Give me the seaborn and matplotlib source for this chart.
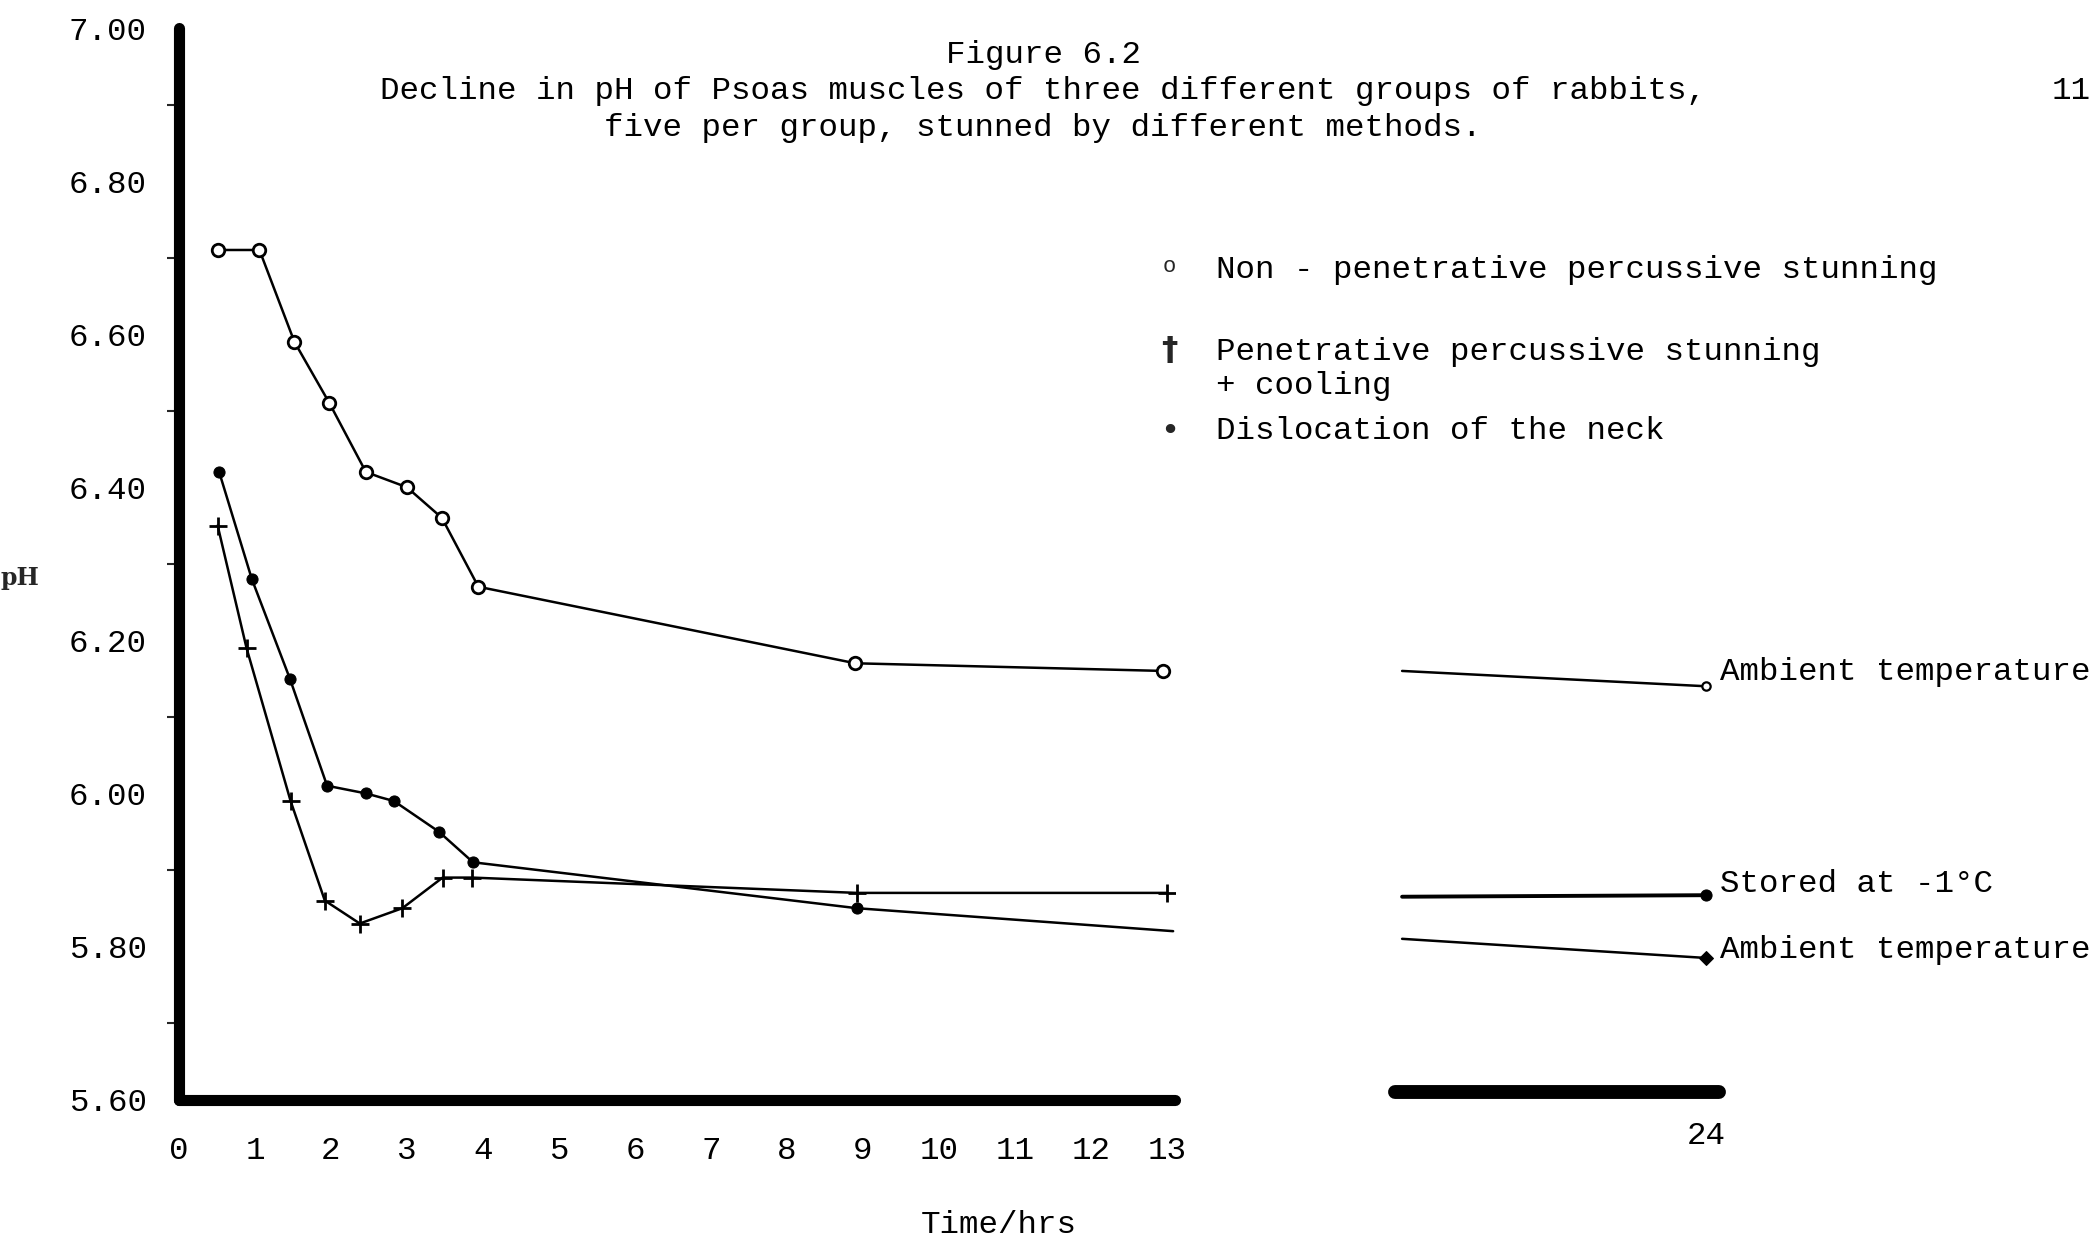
import matplotlib
matplotlib.use("Agg")
import matplotlib.pyplot as plt
import seaborn as sns
from matplotlib.ticker import MultipleLocator

# ---------------- data ----------------
time_non = [0.52, 1.06, 1.52, 1.98, 2.46, 3.00, 3.46, 3.94, 8.90, 12.95]
ph_non = [6.71, 6.71, 6.59, 6.51, 6.42, 6.40, 6.36, 6.27, 6.17, 6.16]

time_pen = [0.51, 0.89, 1.47, 1.92, 2.38, 2.94, 3.47, 3.86, 8.92, 13.00]
ph_pen = [6.35, 6.19, 5.99, 5.86, 5.83, 5.85, 5.89, 5.89, 5.87, 5.87]

time_dis = [0.53, 0.96, 1.46, 1.95, 2.46, 2.83, 3.42, 3.87, 8.92, 13.08]
ph_dis = [6.42, 6.28, 6.15, 6.01, 6.00, 5.99, 5.95, 5.91, 5.85, 5.82]

time_late = [20, 24]
ph_non_late = [6.16, 6.14]
ph_pen_late = [5.865, 5.867]
ph_dis_late = [5.81, 5.785]

x_ticks = list(range(0, 14))
y_major = [5.60, 5.80, 6.00, 6.20, 6.40, 6.60, 6.80, 7.00]

title_lines = ["Figure 6.2",
               "Decline in pH of Psoas muscles of three different groups of rabbits,",
               "five per group, stunned by different methods."]
legend_labels = ["Non - penetrative percussive stunning",
                 "Penetrative percussive stunning",
                 "+ cooling",
                 "Dislocation of the neck"]
end_labels = ["Ambient temperature", "Stored at -1\u00b0C", "Ambient temperature"]

# ---------------- style ----------------
sns.set_theme(style="white")
FONT = ["Liberation Mono", "DejaVu Sans Mono"]
plt.rcParams["font.family"] = FONT
FS = 23.4

W, H = 1568.0, 933.0  # layout reference grid
fig = plt.figure(figsize=(20.93, 12.45), dpi=100, facecolor="white")

def fx(px):
    return px / W

def fy(py):
    return 1 - py / H

# main axes: x 0..13.1 at px 134..880, y 5.6..7.0 at px 824..21
ax = fig.add_axes([fx(134), fy(824), fx(880) - fx(134), fy(21) - fy(824)])
ax.set_facecolor("white")
ax.set_xlim(0, 13.1)
ax.set_ylim(5.60, 7.00)

lw = 1.8
sns.lineplot(x=time_non, y=ph_non, ax=ax, color="black", lw=lw,
             estimator=None, errorbar=None, marker="o", markersize=9,
             markerfacecolor="white", markeredgecolor="black",
             markeredgewidth=2.0, zorder=4)
sns.lineplot(x=time_pen, y=ph_pen, ax=ax, color="black", lw=lw,
             estimator=None, errorbar=None, marker="+", markersize=13,
             markerfacecolor="black", markeredgecolor="black",
             markeredgewidth=2.0, zorder=4)
sns.lineplot(x=time_dis, y=ph_dis, ax=ax, color="black", lw=lw,
             estimator=None, errorbar=None, marker="o", markersize=8,
             markerfacecolor="black", markeredgecolor="black",
             markevery=list(range(len(time_dis) - 1)), zorder=4)

for s in ["top", "right"]:
    ax.spines[s].set_visible(False)
for s in ["left", "bottom"]:
    ax.spines[s].set_color("black")
    ax.spines[s].set_linewidth(8)
    ax.spines[s].set_capstyle("round")

ax.set_xticks(x_ticks)
ax.set_xticklabels([str(t) for t in x_ticks])
ax.set_yticks(y_major)
ax.set_yticklabels([f"{v:.2f}" for v in y_major])
ax.yaxis.set_minor_locator(MultipleLocator(0.1))
ax.tick_params(axis="x", which="major", direction="out", length=6, width=1.5,
               pad=20, labelsize=FS, colors="black")
ax.tick_params(axis="y", which="major", direction="out", length=9, width=1.5,
               pad=14, labelsize=FS, colors="black")
ax.tick_params(axis="y", which="minor", direction="out", length=9, width=1.5,
               left=True)
ax.set_xlabel("")
ax.set_ylabel("pH", rotation=0, fontsize=17, fontweight="bold",
              family=["DejaVu Serif"], ha="center", va="center")
ax.yaxis.set_label_coords((15 - 134) / 746.0, (824 - 433) / 803.0)

# late panel (24 h)
ax2 = fig.add_axes([fx(1045), fy(824), fx(1288) - fx(1045), fy(21) - fy(824)])
ax2.set_facecolor("none")
ax2.set_xlim(19.905, 24.176)
ax2.set_ylim(5.60, 7.00)
sns.lineplot(x=time_late, y=ph_non_late, ax=ax2, color="black", lw=lw,
             estimator=None, errorbar=None, marker="o", markersize=6,
             markerfacecolor="white", markeredgecolor="black",
             markeredgewidth=1.6, markevery=[1])
sns.lineplot(x=time_late, y=ph_pen_late, ax=ax2, color="black", lw=2.8,
             estimator=None, errorbar=None, marker="o", markersize=8,
             markerfacecolor="black", markeredgecolor="black", markevery=[1])
sns.lineplot(x=time_late, y=ph_dis_late, ax=ax2, color="black", lw=lw,
             estimator=None, errorbar=None, marker="D", markersize=7,
             markerfacecolor="black", markeredgecolor="black", markevery=[1])
for s in ["top", "right", "left"]:
    ax2.spines[s].set_visible(False)
ax2.spines["bottom"].set_position(("data", 5.61))
ax2.spines["bottom"].set_linewidth(10)
ax2.spines["bottom"].set_color("black")
ax2.spines["bottom"].set_capstyle("round")
ax2.set_xticks([24])
ax2.set_xticklabels(["24"])
ax2.set_yticks([])
ax2.tick_params(axis="x", length=0, pad=21, labelsize=FS, colors="black")
ax2.set_xlabel("")
ax2.set_ylabel("")

end_y = [6.158, 5.881, 5.795]
for lab, yv in zip(end_labels, end_y):
    ax2.text(24.19, yv, lab, fontsize=FS, ha="left", va="center",
             color="black", clip_on=False)

# titles
for txt, py in zip(title_lines, [41, 68, 96]):
    fig.text(fx(781.5), fy(py), txt, fontsize=FS, ha="center", va="center",
             color="black")
fig.text(fx(1566), fy(68), "11", fontsize=FS, ha="right", va="center",
         color="black")

# legend (hand-placed text key)
fig.text(fx(876), fy(200), "o", fontsize=16, ha="center", va="center")
fig.text(fx(876), fy(263), "\u2020", fontsize=FS, ha="center", va="center",
         family=["DejaVu Sans"], fontweight="bold")
fig.text(fx(876), fy(323), "\u2022", fontsize=FS, ha="center", va="center",
         family=["DejaVu Sans"])
for lab, py in zip(legend_labels, [202, 264, 289, 323]):
    fig.text(fx(911), fy(py), lab, fontsize=FS, ha="left", va="center",
             color="black")

fig.text(fx(748), fy(918), "Time/hrs", fontsize=FS, ha="center",
         va="center", color="black")

fig.savefig("out.png", dpi=100, facecolor="white")
